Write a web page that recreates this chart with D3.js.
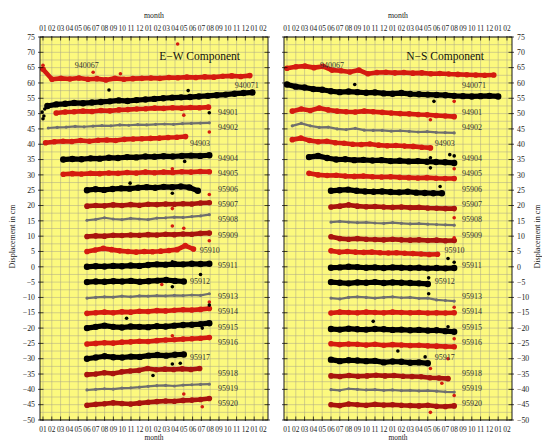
<!DOCTYPE html>
<html>
<head>
<meta charset="utf-8">
<script src="https://cdn.jsdelivr.net/npm/d3@7"></script>
<style>
  body { margin: 0; background: #fff; }
  svg { display: block; font-family: "Liberation Serif", "DejaVu Serif", serif; }
</style>
</head>
<body>
<script>
// month labels along top and bottom (two full years + Jan/Feb)
const monthLabels = ["01","02","03","04","05","06","07","08","09","10","11","12",
                     "01","02","03","04","05","06","07","08","09","10","11","12","01","02"];
const yTickValues = [75,70,65,60,55,50,45,40,35,30,25,20,15,10,5,0,-5,-10,-15,-20,-25,-30,-35,-40,-45,-50];
const yTickLabels = ["75","70","65","60","55","50","45","40","35","30","25","20","15","10","5","0",
                     "\u22125","\u221210","\u221215","\u221220","\u221225","\u221230","\u221235","\u221240","\u221245","\u221250"];

const stations = ["940067","940071","94901","94902","94903","94904","94905","95906","95907","95908","95909",
                  "95910","95911","95912","95913","95914","95915","95916","95917","95918","95919","95920"];

// E-W component: first / last month of each record and displacement samples (cm)
const ewStart = [0, 0.5, 1.5, 0.6, 0.3, 2.3, 2.3, 5, 5, 5, 5, 5, 5, 5, 5, 5, 5, 5, 5, 5, 5, 5];
const ewEnd   = [23.5, 23.8, 18.8, 18.9, 16.2, 18.9, 18.9, 17.6, 18.9, 18.9, 18.9, 17.1, 18.9, 16, 18.9, 18.9, 18.9, 18.9, 16, 17.8, 18.9, 18.9];
const ewValues = [
  [64.5, 61.2, 61.5, 61.3, 61.6, 61.2, 61.4, 61.0, 61.5, 61.2, 61.4, 61.5, 61.6, 61.5, 61.8, 61.7, 61.9, 61.8, 62.0, 61.9, 62.2, 62.3, 62.1, 62.4],
  [52.5, 53.0, 53.2, 53.5, 53.4, 53.6, 53.8, 54.0, 54.3, 54.1, 54.4, 54.6, 54.8, 55.0, 55.2, 55.3, 55.4, 55.6, 55.8, 56.0, 56.2, 56.5, 56.7, 56.9],
  [50.2, 50.5, 50.6, 50.8, 50.7, 51.0, 50.9, 51.2, 51.3, 51.5, 51.6, 51.8, 51.7, 51.9, 51.8, 52.0, 51.9, 52.1],
  [45.3, 45.5, 45.6, 45.8, 45.7, 45.9, 46.1, 46.0, 46.3, 46.2, 46.4, 46.3, 46.5, 46.6, 46.5, 46.7, 46.8, 46.9, 47.0],
  [40.5, 40.8, 41.0, 40.9, 41.2, 41.0, 41.3, 41.4, 41.2, 41.6, 41.7, 41.8, 41.9, 42.0, 42.2, 42.3, 42.5],
  [35.0, 35.2, 35.1, 35.4, 35.3, 35.6, 35.5, 35.8, 35.7, 36.0, 35.9, 36.1, 36.0, 36.2, 36.3, 36.2, 36.4],
  [30.2, 30.4, 30.3, 30.5, 30.4, 30.6, 30.5, 30.8, 30.6, 30.9, 30.7, 30.9, 30.8, 31.0, 30.9, 31.1, 31.0],
  [25.0, 25.3, 25.1, 25.4, 25.6, 25.5, 25.8, 26.0, 25.8, 26.1, 26.0, 26.2, 25.9, 24.8],
  [19.8, 20.0, 19.9, 20.2, 20.0, 20.3, 20.1, 20.4, 20.3, 20.5, 20.4, 20.6, 20.5, 20.8, 20.9],
  [15.2, 15.5, 16.0, 15.6, 15.4, 15.8, 15.6, 15.4, 15.9, 16.0, 16.2, 16.1, 16.4, 16.6, 17.0],
  [9.9, 10.1, 10.0, 10.3, 10.2, 10.4, 10.3, 10.5, 10.4, 10.6, 10.5, 10.7, 10.6, 10.9, 11.0],
  [5.0, 5.5, 6.0, 5.6, 5.2, 5.0, 4.8, 5.0, 4.9, 5.1, 5.3, 5.6, 6.9, 5.8],
  [0.0, 0.2, 0.1, 0.3, 0.2, 0.4, 0.3, 0.6, 0.8, 0.7, 0.9, 0.8, 1.0, 0.9, 1.0],
  [-5.0, -4.8, -4.9, -4.7, -4.8, -4.6, -4.9, -4.7, -4.5, -4.3, -4.6, -4.8],
  [-10.2, -10.0, -9.8, -9.9, -9.6, -9.8, -9.5, -9.6, -9.4, -9.5, -9.3, -9.4, -9.2, -9.3, -8.8],
  [-15.2, -15.0, -14.8, -15.0, -14.7, -14.8, -14.5, -14.6, -14.3, -14.4, -14.2, -14.0, -14.1, -13.9, -13.6],
  [-20.0, -19.6, -19.2, -19.6, -19.8, -19.5, -19.6, -19.7, -19.4, -19.5, -19.2, -19.0, -18.9, -18.7, -18.4],
  [-25.2, -25.0, -24.8, -24.9, -24.6, -24.5, -24.3, -24.4, -24.1, -23.9, -23.8, -23.6, -23.5, -23.3, -23.1],
  [-30.0, -29.6, -29.2, -29.5, -29.6, -29.3, -29.4, -29.0, -28.8, -29.0, -28.7, -28.6],
  [-35.2, -35.0, -34.6, -34.8, -34.3, -34.0, -33.8, -33.2, -33.6, -33.4, -33.5, -33.3, -33.5, -33.2],
  [-40.2, -40.0, -39.8, -39.9, -39.6, -39.5, -39.3, -39.0, -38.8, -38.7, -38.9, -38.6, -38.5, -38.4, -38.3],
  [-45.2, -44.9, -44.7, -44.4, -44.6, -44.8, -44.5, -44.2, -44.0, -43.8, -43.9, -43.6, -43.5, -43.3, -43.0]
];
// isolated samples [month, cm]
const ewRedOutliers = [[0.0, 65.8], [15.3, 72.7], [5.7, 63.5], [8.8, 63.0], [16.0, 49.5], [18.9, 44.0], [14.7, 32.0],
  [18.9, 23.6], [14.7, 19.0], [14.7, 13.3], [16.0, 12.6], [18.9, 8.5], [13.5, -5.8], [18.9, -11.5], [14.7, -22.5],
  [16.0, -41.5], [18.1, -45.7]];
const ewBlackOutliers = [[-0.1, 50.5], [0.1, 49.2], [0.0, 48.3], [0.2, 51.5], [7.5, 57.7], [16.5, 57.5], [18.9, 50.3],
  [16.1, 34.4], [9.9, 27.3], [14.7, 24.0], [14.7, 1.6], [14.7, -6.5], [17.9, -2.5], [9.5, -16.8], [18.1, -20.0],
  [14.7, -31.7], [15.6, -31.5], [12.5, -35.5], [18.9, -12.5]];

// N-S component
const nsStart = [0, 0, 0.6, 0.6, 0.6, 2.5, 2.5, 5, 5, 5, 5, 5, 5, 5, 5, 5, 5, 5, 5, 5, 5, 5];
const nsEnd   = [23.5, 24, 19, 19, 16.3, 19, 19, 17.6, 19, 19, 19, 17.1, 19, 16, 19, 19, 19, 19, 16, 18.3, 19, 19];
const nsValues = [
  [64.8, 65.3, 65.5, 65.0, 65.4, 64.2, 64.0, 63.6, 64.2, 63.0, 63.4, 63.5, 63.3, 63.4, 63.2, 63.3, 63.0, 63.1, 62.9, 62.8, 62.7, 62.6, 62.5, 62.6],
  [59.5, 58.8, 58.5, 58.0, 57.8, 57.3, 57.0, 57.2, 57.0, 56.8, 56.9, 56.6, 56.5, 56.7, 56.4, 56.3, 56.2, 56.1, 56.0, 55.8, 55.7, 55.6, 55.7, 55.8, 55.6],
  [50.8, 51.5, 51.0, 51.8, 51.2, 50.8, 50.6, 50.5, 50.8, 50.6, 50.4, 50.2, 50.0, 49.9, 49.7, 49.6, 49.4, 49.2, 49.0],
  [46.0, 46.8, 46.0, 45.5, 45.6, 45.0, 44.8, 45.2, 44.6, 44.5, 44.5, 44.3, 44.4, 44.2, 44.0, 44.1, 43.9, 43.8, 43.7],
  [41.5, 42.0, 41.2, 40.8, 41.0, 40.5, 40.3, 40.0, 39.9, 40.1, 39.7, 39.5, 39.6, 39.4, 39.3, 39.0, 38.8],
  [35.8, 36.2, 35.5, 35.0, 35.1, 34.8, 34.9, 34.7, 34.8, 34.5, 34.6, 34.4, 34.5, 34.3, 34.2, 34.1, 33.9],
  [30.5, 30.0, 29.8, 29.9, 29.6, 29.5, 29.6, 29.4, 29.3, 29.4, 29.2, 29.1, 29.0, 29.1, 28.9, 28.8, 28.8],
  [24.8, 25.0, 25.2, 24.8, 24.6, 24.5, 24.6, 24.4, 24.3, 24.5, 24.2, 24.1, 24.0, 24.0],
  [19.5, 19.8, 20.2, 19.8, 19.6, 19.7, 19.5, 19.4, 19.5, 19.3, 19.4, 19.2, 19.1, 19.0, 19.0],
  [14.6, 14.8, 14.6, 14.4, 14.5, 14.3, 14.2, 14.4, 14.2, 14.0, 14.1, 13.9, 13.8, 13.7, 13.6],
  [9.8, 9.2, 9.0, 9.2, 9.0, 8.9, 8.8, 9.0, 8.8, 8.7, 8.8, 8.6, 8.7, 8.5, 8.6],
  [5.2, 4.8, 5.0, 4.8, 4.7, 4.8, 4.6, 4.5, 4.6, 4.4, 4.3, 4.2, 4.0, 4.1],
  [-0.3, -0.2, 0.0, -0.1, -0.3, -0.2, -0.4, -0.2, -0.3, -0.4, -0.3, -0.5, -0.4, -0.5, -0.4],
  [-5.0, -5.2, -5.4, -5.1, -5.2, -5.0, -5.3, -5.1, -5.2, -5.3, -5.4, -5.6],
  [-10.2, -10.5, -10.0, -9.8, -10.0, -10.2, -10.0, -9.8, -10.1, -10.0, -10.3, -10.2, -10.8, -11.0, -11.2],
  [-15.1, -14.8, -14.9, -15.0, -14.8, -14.9, -15.0, -14.8, -14.9, -15.0, -14.9, -15.1, -15.0, -15.1, -15.0],
  [-20.3, -20.5, -20.2, -20.4, -20.5, -20.3, -20.4, -20.6, -20.5, -20.7, -20.6, -20.8, -20.7, -21.0, -21.2],
  [-25.1, -25.4, -25.2, -25.3, -25.5, -25.3, -25.6, -25.4, -25.5, -25.7, -25.6, -25.8, -25.9, -26.0, -26.1],
  [-30.3, -30.8, -30.5, -30.6, -30.8, -30.7, -31.2, -30.9, -31.0, -31.3, -31.2, -31.5],
  [-35.6, -35.8, -35.5, -35.7, -35.6, -35.4, -35.6, -35.5, -35.7, -35.8, -35.9, -36.2, -36.3, -36.5],
  [-40.1, -40.3, -39.8, -40.0, -40.2, -40.1, -40.3, -40.2, -40.4, -40.3, -40.5, -40.4, -40.6, -40.8, -40.9],
  [-45.0, -45.3, -44.8, -45.0, -45.2, -44.9, -45.1, -45.0, -45.2, -45.3, -45.4, -45.2, -45.5, -45.6, -45.4]
];
const nsRedOutliers = [[19.0, 54.0], [16.3, 48.0], [19.0, 32.0], [19.0, 16.0], [19.0, 9.5], [19.0, -13.2],
  [19.0, -23.5], [18.3, -30.0], [16.3, -33.2], [17.6, -38.0], [19.0, -42.0], [16.3, -47.5]];
const nsBlackOutliers = [[7.7, 59.5], [16.7, 54.0], [16.3, 35.6], [18.5, 36.6], [19.0, 36.2], [16.3, 32.3],
  [17.4, 26.2], [18.3, 2.7], [19.0, 1.5], [16.1, -3.6], [16.1, -8.8], [9.8, -17.8], [18.3, -19.6],
  [12.6, -27.5], [15.7, -29.4]];

// ---- styles / layout ----
const RED = "#d41b10", DARK = "#a8140e", GRAY = "#6f6f6f", BLACK = "#000";
const stationColor = [RED, BLACK, RED, GRAY, RED, BLACK, RED, BLACK, DARK, GRAY, DARK,
                      RED, BLACK, BLACK, GRAY, RED, BLACK, RED, BLACK, DARK, GRAY, DARK];

const W = 542, H = 443;
const plotTop = 37, plotBottom = 420, panelW = 228;

const svg = d3.select("body").append("svg").attr("width", W).attr("height", H);

const y = d3.scaleLinear().domain([-50, 75]).range([plotBottom, plotTop]);

function drawPanel(left, title, starts, ends, values, redPts, blackPts, labelSpots, axisSide) {
  const x = d3.scaleLinear().domain([-0.34, 25.57]).range([left, left + panelW]);
  const g = svg.append("g");

  g.append("rect").attr("x", left).attr("y", plotTop).attr("width", panelW).attr("height", plotBottom - plotTop)
    .attr("fill", "#fcf97e");

  // grid
  g.selectAll(".vg").data(monthLabels).enter().append("line")
    .attr("x1", (d, i) => x(i)).attr("x2", (d, i) => x(i))
    .attr("y1", plotTop).attr("y2", plotBottom)
    .attr("stroke", "#a9a58a").attr("stroke-width", 0.5);
  g.selectAll(".hg").data(d3.range(-50, 75.1, 2.5)).enter().append("line")
    .attr("x1", left).attr("x2", left + panelW)
    .attr("y1", d => y(d)).attr("y2", d => y(d))
    .attr("stroke", "#a9a58a").attr("stroke-width", 0.5);

  // series
  const line = d3.line().x(d => x(d[0])).y(d => y(d[1]));
  stations.forEach((s, i) => {
    const vals = values[i];
    const t = d3.scaleLinear().domain([0, vals.length - 1]).range([starts[i], ends[i]]);
    const pts = vals.map((v, k) => [t(k), v]);
    const col = stationColor[i];
    const wide = col === GRAY ? 2.2 : (col === BLACK ? 5.2 : 4.6);
    g.append("path").datum(pts).attr("d", line)
      .attr("fill", "none").attr("stroke", col).attr("stroke-width", wide)
      .attr("stroke-linejoin", "round").attr("stroke-linecap", "round");
    g.selectAll(null).data(pts).enter().append("circle")
      .attr("cx", d => x(d[0])).attr("cy", d => y(d[1]))
      .attr("r", col === GRAY ? 1.6 : (col === BLACK ? 3.2 : 2.8))
      .attr("fill", col);
  });

  g.selectAll(null).data(redPts).enter().append("circle")
    .attr("cx", d => x(d[0])).attr("cy", d => y(d[1])).attr("r", 1.8).attr("fill", RED);
  g.selectAll(null).data(blackPts).enter().append("circle")
    .attr("cx", d => x(d[0])).attr("cy", d => y(d[1])).attr("r", 1.8).attr("fill", BLACK);

  // station names
  stations.forEach((s, i) => {
    const spot = labelSpots[i] || [];
    const lm = spot[0] !== undefined ? spot[0] : 19.9;
    const lv = spot[1] !== undefined ? spot[1] : 50 - 5 * (i - 2) + 0.4;
    g.append("text").attr("x", x(lm)).attr("y", y(lv)).attr("dy", "0.35em")
      .attr("font-size", 8).attr("fill", "#333").text(s);
  });

  g.append("text").attr("x", left + panelW - 28).attr("y", y(68.8)).attr("dy", "0.35em")
    .attr("text-anchor", "end").attr("font-size", 11.5).attr("fill", "#111").text(title);

  // frame + ticks
  g.append("rect").attr("x", left).attr("y", plotTop).attr("width", panelW).attr("height", plotBottom - plotTop)
    .attr("fill", "none").attr("stroke", "#000").attr("stroke-width", 0.9);

  [plotTop, plotBottom].forEach(yy => {
    const dir = yy === plotTop ? 1 : -1;
    g.selectAll(null).data(monthLabels).enter().append("line")
      .attr("x1", (d, i) => x(i)).attr("x2", (d, i) => x(i))
      .attr("y1", yy - dir * 1).attr("y2", yy + dir * 3.5)
      .attr("stroke", "#000").attr("stroke-width", 0.7);
    g.selectAll(null).data(monthLabels).enter().append("text")
      .attr("x", (d, i) => x(i)).attr("y", yy === plotTop ? 28 : 429).attr("dy", "0.35em")
      .attr("text-anchor", "middle").attr("font-size", 7.4).attr("fill", "#222").text(d => d);
  });
  [left, left + panelW].forEach(xx => {
    const dir = xx === left ? 1 : -1;
    g.selectAll(null).data(yTickValues).enter().append("line")
      .attr("x1", xx - dir * 2).attr("x2", xx + dir * 3.5)
      .attr("y1", d => y(d)).attr("y2", d => y(d))
      .attr("stroke", "#000").attr("stroke-width", 0.7);
  });
  g.selectAll(null).data(yTickValues).enter().append("text")
    .attr("x", axisSide === "left" ? left - 5 : left + panelW + 5)
    .attr("y", d => y(d)).attr("dy", "0.35em")
    .attr("text-anchor", axisSide === "left" ? "end" : "start")
    .attr("font-size", 7.8).attr("fill", "#222")
    .text((d, i) => yTickLabels[i]);

  g.append("text").attr("x", left + panelW / 2).attr("y", 15).attr("dy", "0.35em")
    .attr("text-anchor", "middle").attr("font-size", 7.8).attr("fill", "#222").text("month");
  g.append("text").attr("x", left + panelW / 2).attr("y", 437.5).attr("dy", "0.35em")
    .attr("text-anchor", "middle").attr("font-size", 7.4).attr("fill", "#222").text("month");
}

const ewSpots = {0: [3.6, 65.7], 1: [21.8, 59.2], 4: [16.7], 11: [17.8], 13: [16.7], 18: [16.7]};
const nsSpots = {0: [3.75, 65.7], 1: [19.9, 59.2], 4: [16.8], 11: [17.9], 13: [16.8], 18: [16.8]};

drawPanel(40, "E\u2212W Component", ewStart, ewEnd, ewValues, ewRedOutliers, ewBlackOutliers, ewSpots, "left");
drawPanel(284, "N\u2212S Component", nsStart, nsEnd, nsValues, nsRedOutliers, nsBlackOutliers, nsSpots, "right");

svg.append("text").attr("transform", `translate(12,${(plotTop + plotBottom) / 2 + 8}) rotate(-90)`)
  .attr("text-anchor", "middle").attr("dy", "0.35em").attr("font-size", 8).attr("fill", "#222")
  .text("Displacement in cm");
svg.append("text").attr("transform", `translate(537,${(plotTop + plotBottom) / 2 + 8}) rotate(-90)`)
  .attr("text-anchor", "middle").attr("dy", "0.35em").attr("font-size", 8).attr("fill", "#222")
  .text("Displacement in cm");
</script>
</body>
</html>
